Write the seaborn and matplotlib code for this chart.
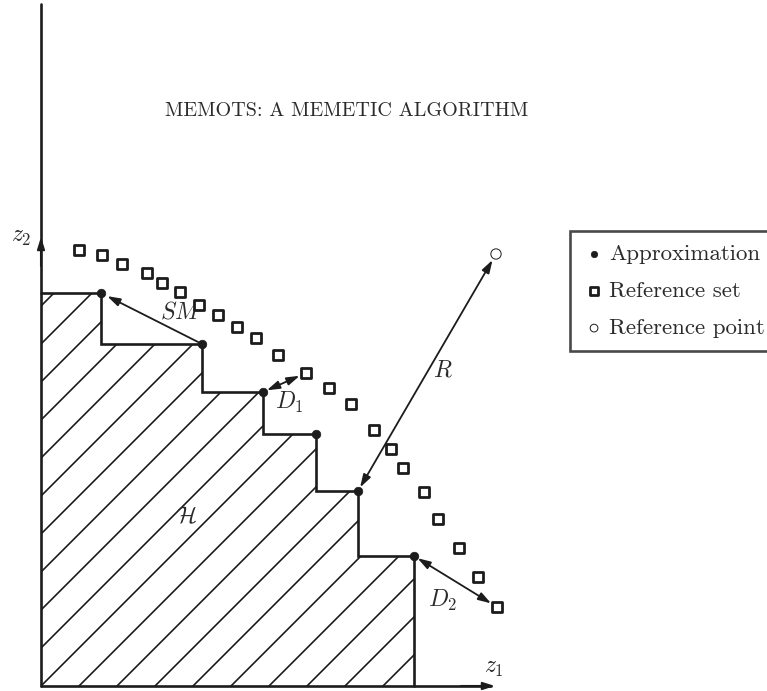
import numpy as np
import matplotlib
matplotlib.use("Agg")
import matplotlib.pyplot as plt
import seaborn as sns
from matplotlib.patches import Polygon

# Objective space, origin at the corner of the two axes (z1 right, z2 up)
approx_z1 = [60, 161, 222, 275, 317, 373]
approx_z2 = [393, 342, 294, 252, 195, 130]

ref_set_z1 = [38, 61, 81, 106, 121, 139, 158, 177, 196, 215, 237,
              265, 288, 310, 333, 350, 362, 383, 397, 418, 437, 456]
ref_set_z2 = [436, 431, 422, 413, 403, 394, 381, 371, 359, 348, 331,
              313, 298, 282, 256, 237, 218, 194, 167, 138, 109, 79]

ref_point_z1 = [455]
ref_point_z2 = [432]

legend_labels = ["Approximation", "Reference set", "Reference point"]
header = "MEMOTS: A MEMETIC ALGORITHM"

sns.set_theme(style="white")
plt.rcParams["mathtext.fontset"] = "cm"
plt.rcParams["font.family"] = ["cmr10", "DejaVu Serif"]
plt.rcParams["axes.unicode_minus"] = False

ink = "#1c1c1c"
txt = "#2b2b2b"

fig = plt.figure(figsize=(7.67, 6.91), dpi=100)
ax = fig.add_axes([0, 0, 1, 1])
ax.set_xlim(-41, 726)
ax.set_ylim(-5, 686)
ax.axis("off")

# staircase boundary of the dominated region H
stair_x, stair_y = [0], [approx_z2[0]]
for i in range(len(approx_z1)):
    nxt = approx_z2[i + 1] if i + 1 < len(approx_z2) else 0
    stair_x += [approx_z1[i], approx_z1[i]]
    stair_y += [approx_z2[i], nxt]

poly = Polygon(list(zip(stair_x, stair_y)) + [(0, 0)], closed=True,
               facecolor="none", edgecolor="none")
ax.add_patch(poly)

# hatch lines at 45 degrees, clipped to the region
gap = 38
for c in np.arange(-gap * 11, max(approx_z2) + gap, gap):
    ln, = ax.plot([0, 500], [c, c + 500], color=ink, lw=1.2)
    ln.set_clip_path(poly)

ax.plot(stair_x, stair_y, color=ink, lw=1.9, solid_joinstyle="miter")

# axes
ax.plot([0, 0], [0, 682], color=ink, lw=1.9)
ax.plot([0, 450], [0, 0], color=ink, lw=1.9)
ax.annotate("", xy=(454, 0), xytext=(420, 0),
            arrowprops=dict(arrowstyle="-|>,head_length=0.7,head_width=0.22",
                            color=ink, lw=1.5, mutation_scale=10,
                            shrinkA=0, shrinkB=0))
ax.annotate("", xy=(0, 449), xytext=(0, 420),
            arrowprops=dict(arrowstyle="-|>,head_length=0.7,head_width=0.22",
                            color=ink, lw=1.5, mutation_scale=10,
                            shrinkA=0, shrinkB=0))

# markers
sns.scatterplot(x=approx_z1, y=approx_z2, ax=ax, marker="o", s=38,
                color=ink, edgecolor=ink, linewidth=0.5,
                label=legend_labels[0], zorder=5)
sns.scatterplot(x=ref_set_z1, y=ref_set_z2, ax=ax, marker="s", s=52,
                facecolor="white", edgecolor=ink, linewidth=2.0,
                label=legend_labels[1], zorder=5)
sns.scatterplot(x=ref_point_z1, y=ref_point_z2, ax=ax, marker="o", s=55,
                facecolor="none", edgecolor=ink, linewidth=0.7,
                label=legend_labels[2], zorder=5)


def arrow(p, q, style):
    ax.annotate("", xy=q, xytext=p,
                arrowprops=dict(arrowstyle=style + ",head_length=0.7,head_width=0.22",
                                color=ink, lw=1.3, mutation_scale=11,
                                shrinkA=3, shrinkB=5), zorder=4)


a = list(zip(approx_z1, approx_z2))
r = list(zip(ref_set_z1, ref_set_z2))
rp = (ref_point_z1[0], ref_point_z2[0])
arrow(a[1], a[0], "-|>")
arrow(a[2], r[11], "<|-|>")
arrow(a[4], rp, "<|-|>")
arrow(a[5], r[21], "<|-|>")

lab = dict(color=txt, ha="center", va="center", fontsize=17)
ax.text(140, 374, r"$SM$", **lab)
ax.text(248, 284, r"$D_1$", **lab)
ax.text(402, 316, r"$R$", **lab)
ax.text(402, 86, r"$D_2$", **lab)
ax.text(145, 169, r"$\mathcal{H}$", **lab)
ax.text(453, 18, r"$z_1$", **lab)
ax.text(-20, 449, r"$z_2$", **lab)

ax.text(306, 575, header, color=txt, ha="center", va="center", fontsize=14.5)

leg = ax.legend(loc="upper left", bbox_to_anchor=(570 / 767, 1 - 231 / 691),
                frameon=True, fancybox=False, fontsize=16.5, handletextpad=0.15,
                handlelength=1.0, borderpad=0.55, labelspacing=0.75,
                markerscale=0.75, borderaxespad=0)
leg.get_frame().set_edgecolor(ink)
leg.get_frame().set_linewidth(1.9)
for t in leg.get_texts():
    t.set_color(txt)

fig.savefig("out.png", dpi=100)
